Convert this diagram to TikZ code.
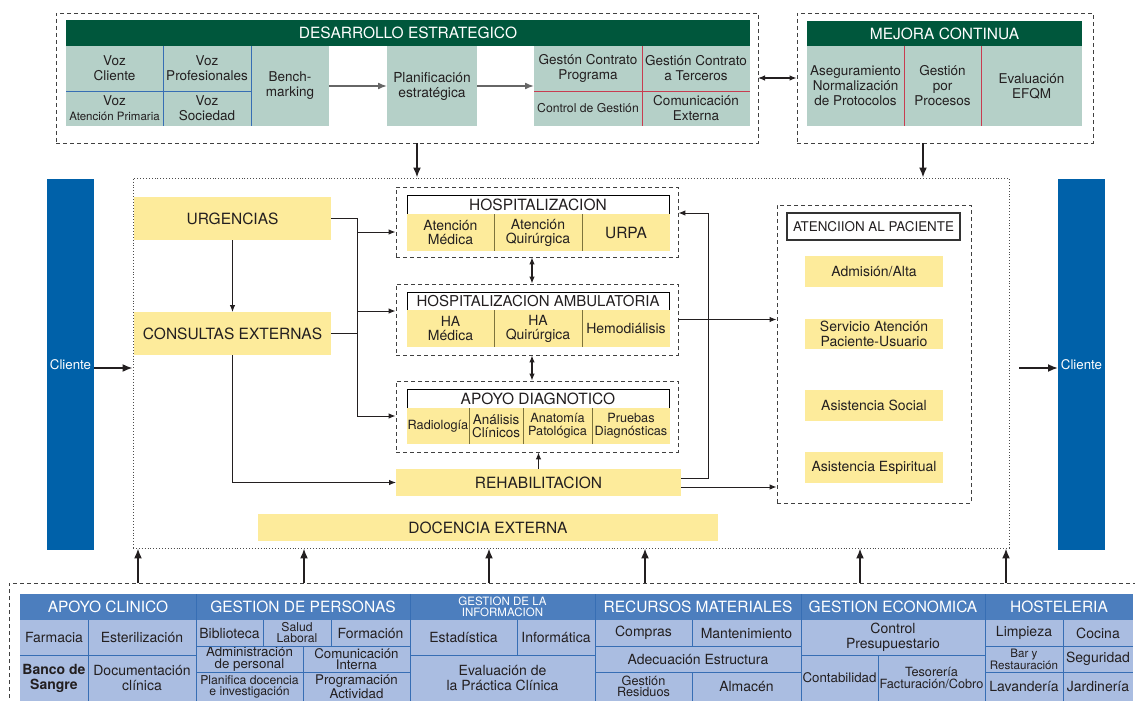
\documentclass[tikz,border=0pt]{standalone}
\usepackage{fontspec}
\setmainfont{TeX Gyre Heros}
\usetikzlibrary{arrows.meta}
\definecolor{colGreen}{RGB}{0,87,60}
\definecolor{colTeal}{RGB}{181,208,200}
\definecolor{colYel}{RGB}{253,235,155}
\definecolor{colCli}{RGB}{0,97,169}
\definecolor{colHBlue}{RGB}{76,126,190}
\definecolor{colLBlue}{RGB}{170,189,225}
\definecolor{colDiv}{RGB}{55,110,180}
\definecolor{colRed}{RGB}{200,60,80}
\definecolor{colOl}{RGB}{125,115,60}
\definecolor{colTxt}{RGB}{35,31,32}
\newcommand\fsz[2]{\fontsize{#1}{#2}\selectfont}
\newcommand\cellbox[7]{\node[#1,minimum width={(#5-#3)*1pt},minimum height={(#6-#4)*1pt}] (#2) at ({(#3+#5)/2},{(#4+#6)/2}) {#7};}
\begin{document}
\begin{tikzpicture}[x=1pt,y=-1pt,
  base/.style={inner sep=0pt,outer sep=0pt,align=center,text=colTxt},
  ghead/.style={base,fill=colGreen,text=white,font=\fsz{15.5}{17}},
  tcell/.style={base,fill=colTeal,font=\fsz{13.5}{15}},
  ybox/.style={base,fill=colYel,font=\fsz{15.5}{17}},
  ycell/.style={base,fill=colYel,font=\fsz{14}{14}},
  acell/.style={base,fill=colYel,font=\fsz{12.7}{13}},
  yitem/.style={base,fill=colYel,font=\fsz{14}{15}},
  dbox/.style={draw=black!75,dash pattern=on 4pt off 3pt,line width=0.9pt},
  mbox/.style={draw=black!70,dotted,line width=0.9pt},
  tbox/.style={base,draw=black,line width=0.8pt,fill=white,font=\fsz{15.5}{17}},
  atitle/.style={base,draw=black!80,line width=1.1pt,fill=white,font=\fsz{13.4}{15}},
  cli/.style={base,fill=colCli,text=white,font=\fsz{13.3}{15}},
  bhead/.style={base,fill=colHBlue,text=white,font=\fsz{15.5}{17}},
  bcell/.style={base,font=\fsz{14}{15}},
  bsmall/.style={base,font=\fsz{12.2}{11}},
  divb/.style={draw=colDiv,line width=0.9pt},
  divr/.style={draw=colRed,line width=0.9pt},
  divo/.style={draw=colOl,line width=0.9pt},
  ar/.style={-{Latex[length=7pt,width=5.5pt]},line width=1pt,draw=colTxt},
  dar/.style={{Latex[length=7pt,width=5.5pt]}-{Latex[length=7pt,width=5.5pt]},line width=1.1pt,draw=colTxt},
  bar/.style={-{Latex[length=10pt,width=8pt]},line width=1.8pt,draw=colTxt},
  gar/.style={-{Latex[length=9pt,width=7pt]},line width=1.6pt,draw=black!60},
  ln/.style={line width=1pt,draw=colTxt}
]
\useasboundingbox (0,0) rectangle (1135,701);
% ===== top: desarrollo estrategico
\cellbox{dbox}{desbox}{56}{13}{758}{143}{}
\cellbox{ghead}{desh}{66}{20}{750}{46}{DESARROLLO ESTRATEGICO}
\cellbox{tcell}{vc}{66}{46}{163}{91}{Voz\\Cliente}
\cellbox{tcell}{vp}{163}{46}{251}{91}{Voz\\Profesionales}
\cellbox{tcell}{va}{66}{91}{163}{126}{Voz\\{\fsz{11.5}{13}Atención Primaria}}
\cellbox{tcell}{vs}{163}{91}{251}{126}{Voz\\Sociedad}
\cellbox{tcell}{bm}{251}{46}{329}{126}{Bench-\\marking}
\draw[divb] (163,46)--(163,126) (251,46)--(251,126) (66,91)--(251,91);
\cellbox{tcell,font=\fsz{13.8}{15}}{plan}{387}{46}{477}{126}{Planificación\\estratégica}
\cellbox{base}{gc}{534}{46}{750}{126}{}
\cellbox{tcell}{g1}{534}{46}{642}{91}{Gestón Contrato\\Programa}
\cellbox{tcell}{g2}{642}{46}{750}{91}{Gestión Contrato\\a Terceros}
\cellbox{tcell,font=\fsz{12.2}{14}}{g3}{534}{91}{642}{126}{Control de Gestión}
\cellbox{tcell}{g4}{642}{91}{750}{126}{Comunicación\\Externa}
\draw[divr] (642,46)--(642,126) (534,91)--(750,91);
% ===== top: mejora continua
\cellbox{dbox}{mejbox}{797}{13}{1093}{143}{}
\cellbox{ghead}{mejh}{807}{21}{1082}{46}{MEJORA CONTINUA}
\cellbox{tcell}{m1}{807}{46}{904}{126}{Aseguramiento\\Normalización\\de Protocolos}
\cellbox{tcell}{m2}{904}{46}{981}{126}{Gestión\\por\\Procesos}
\cellbox{tcell}{m3}{981}{46}{1082}{126}{Evaluación\\EFQM}
\draw[divr] (904,46)--(904,126) (981,46)--(981,126);
% ===== main box
\cellbox{mbox}{main}{133}{178}{1009}{548}{}
\cellbox{cli}{cll}{47}{179}{94}{550}{Cliente}
\cellbox{cli}{clr}{1058}{179}{1105}{550}{Cliente}
\cellbox{ybox}{urg}{134}{197}{331}{240}{URGENCIAS}
\cellbox{ybox}{cons}{134}{312}{331}{355}{CONSULTAS EXTERNAS}
% hospitalizacion
\cellbox{dbox}{hospbox}{396}{187}{678}{257}{}
\cellbox{tbox}{hosph}{407}{195}{669}{214}{HOSPITALIZACION}
\cellbox{ycell}{h1}{407}{214}{494}{251}{Atención\\Médica}
\cellbox{ycell}{h2}{494}{214}{582}{251}{Atención\\Quirúrgica}
\cellbox{ycell,font=\fsz{15.5}{17}}{h3}{582}{214}{670}{251}{URPA}
\draw[divo] (494,214)--(494,251) (582,214)--(582,251);
% hospitalizacion ambulatoria
\cellbox{dbox}{habox}{396}{284}{678}{355}{}
\cellbox{tbox,font=\fsz{15}{17}}{hah}{407}{292}{669}{310}{HOSPITALIZACION AMBULATORIA}
\cellbox{ycell}{ha1}{407}{310}{494}{347}{HA\\Médica}
\cellbox{ycell}{ha2}{494}{310}{582}{347}{HA\\Quirúrgica}
\cellbox{ycell}{ha3}{582}{310}{670}{347}{Hemodiálisis}
\draw[divo] (494,310)--(494,347) (582,310)--(582,347);
% apoyo diagnostico
\cellbox{dbox}{apbox}{396}{381}{678}{452}{}
\cellbox{tbox}{aph}{407}{389}{669}{408}{APOYO DIAGNOTICO}
\cellbox{acell}{ap1}{407}{408}{469}{444}{Radiología}
\cellbox{acell,font=\fsz{13.5}{13}}{ap2}{469}{408}{523}{444}{Análisis\\Clínicos}
\cellbox{acell}{ap3}{523}{408}{592}{444}{Anatomía\\Patológica}
\cellbox{acell}{ap4}{592}{408}{670}{444}{Pruebas\\Diagnósticas}
\draw[divo] (469,408)--(469,444) (523,408)--(523,444) (592,408)--(592,444);
\cellbox{ybox}{rehab}{396}{469}{681}{496}{REHABILITACION}
\cellbox{ybox}{doc}{258}{514}{718}{541}{DOCENCIA EXTERNA}
% atencion al paciente
\cellbox{dbox}{atbox}{777}{205}{971}{503}{}
\cellbox{atitle}{att}{787}{213}{960}{240}{ATENCIION AL PACIENTE}
\cellbox{yitem}{at1}{805}{256}{943}{287}{Admisión/Alta}
\cellbox{yitem}{at2}{805}{319}{943}{349}{Servicio Atención\\Paciente-Usuario}
\cellbox{yitem}{at3}{805}{390}{943}{421}{Asistencia Social}
\cellbox{yitem}{at4}{805}{452}{943}{483}{Asistencia Espiritual}
% ===== bottom table
\draw[dbox] (9,712) -- (9,583) -- (1145,583);
\fill[colLBlue] (20,620) rectangle (1133,701);
\cellbox{bhead}{bh1}{20}{594}{196}{620}{APOYO CLINICO}
\cellbox{bhead}{bh2}{196}{594}{410}{620}{GESTION DE PERSONAS}
\cellbox{bhead,font=\fsz{11.5}{10.5}}{bh3}{410}{594}{595}{620}{GESTION DE LA\\INFORMACION}
\cellbox{bhead}{bh4}{595}{594}{801}{620}{RECURSOS MATERIALES}
\cellbox{bhead}{bh5}{801}{594}{985}{620}{GESTION ECONOMICA}
\cellbox{bhead}{bh6}{985}{594}{1133}{620}{HOSTELERIA}
\cellbox{bcell}{c11}{20}{620}{88}{655}{Farmacia}
\cellbox{bcell}{c12}{88}{620}{196}{655}{Esterilización}
\cellbox{bcell,font=\fsz{14}{15}\bfseries}{c13}{20}{655}{88}{701}{Banco de\\Sangre}
\cellbox{bcell}{c14}{88}{655}{196}{701}{Documentación\\clínica}
\cellbox{bcell}{c21}{196}{620}{263}{646}{Biblioteca}
\cellbox{bsmall}{c22}{263}{620}{331}{646}{Salud\\Laboral}
\cellbox{bcell}{c23}{331}{620}{410}{646}{Formación}
\cellbox{base,font=\fsz{13.3}{11.5}}{c24}{196}{646}{303}{672}{Administración\\de personal}
\cellbox{base,font=\fsz{13.3}{11.5}}{c25}{303}{646}{410}{672}{Comunicación\\Interna}
\cellbox{bsmall}{c26}{196}{672}{303}{701}{Planifica docencia\\e investigación}
\cellbox{base,font=\fsz{13.3}{11.5}}{c27}{303}{672}{410}{701}{Programación\\Actividad}
\cellbox{bcell}{c31}{410}{620}{517}{655}{Estadística}
\cellbox{bcell}{c32}{517}{620}{595}{655}{Informática}
\cellbox{bcell}{c33}{410}{655}{595}{701}{Evaluación de\\la Práctica Clínica}
\cellbox{bcell}{c41}{595}{620}{692}{646}{Compras}
\cellbox{bcell}{c42}{692}{620}{801}{646}{Mantenimiento}
\cellbox{bcell}{c43}{595}{646}{801}{672}{Adecuación Estructura}
\cellbox{base,font=\fsz{12.7}{11.5}}{c44}{595}{672}{692}{701}{Gestión\\Residuos}
\cellbox{bcell}{c45}{692}{672}{801}{701}{Almacén}
\cellbox{bcell}{c51}{801}{620}{985}{655}{Control\\Presupuestario}
\cellbox{bcell,font=\fsz{13.3}{15}}{c52}{801}{655}{878}{701}{Contabilidad}
\cellbox{base,font=\fsz{12.7}{12}}{c53}{878}{655}{985}{701}{Tesorería\\Facturación/Cobro}
\cellbox{bcell}{c61}{985}{620}{1063}{646}{Limpieza}
\cellbox{bcell}{c62}{1063}{620}{1133}{646}{Cocina}
\cellbox{base,font=\fsz{11.6}{9.5}}{c63}{985}{646}{1063}{672}{Bar y\\Restauración}
\cellbox{bcell}{c64}{1063}{646}{1133}{672}{Seguridad}
\cellbox{bcell}{c65}{985}{672}{1063}{701}{Lavandería}
\cellbox{bcell}{c66}{1063}{672}{1133}{701}{Jardinería}
\draw[divb] (196,594)--(196,701) (410,594)--(410,701) (595,594)--(595,701)
  (801,594)--(801,701) (985,594)--(985,701);
\draw[divb] (20,655)--(196,655) (88,620)--(88,701)
  (196,646)--(410,646) (196,672)--(410,672) (263,620)--(263,646) (331,620)--(331,646) (303,646)--(303,701)
  (410,655)--(595,655) (517,620)--(517,655)
  (595,646)--(801,646) (595,672)--(801,672) (692,620)--(692,646) (692,672)--(692,701)
  (801,655)--(985,655) (878,655)--(878,701)
  (985,646)--(1133,646) (985,672)--(1133,672) (1063,620)--(1063,701);
% ===== connectors
\draw[gar] (bm.east) -- (plan.west);
\draw[gar] (plan.east) -- (gc.west);
\coordinate (dm) at (758,78);
\draw[dar] (dm) -- (dm -| mejbox.west);
\coordinate (t1) at (417,143);
\draw[bar] (t1) -- (t1 |- main.north);
\coordinate (t2) at (923,143);
\draw[bar] (t2) -- (t2 |- main.north);
\coordinate (cl1) at ([yshift=-3.5pt]cll.east);
\draw[bar] (cl1) -- (cl1 -| main.west);
\coordinate (cr1) at (1019,368);
\draw[bar] (cr1) -- (cr1 -| clr.west);
\draw[ar] (urg.south) -- (cons.north);
\coordinate (j1) at (urg.east -| 357,0);
\coordinate (j2) at (357,416);
\draw[ln] (urg.east) -- (j1) -- (j2);
\draw[ln] (cons.east) -- (cons.east -| j1);
\coordinate (b1) at (357,232);
\draw[ar] (b1) -- (b1 -| hospbox.west);
\coordinate (b2) at (357,311);
\draw[ar] (b2) -- (b2 -| habox.west);
\draw[ar] (j2) -- (j2 -| apbox.west);
\coordinate (d1) at ([xshift=-5pt]hospbox.south);
\draw[dar] (d1) -- (d1 |- habox.north);
\coordinate (d2) at ([xshift=-5pt]habox.south);
\draw[dar] (d2) -- (d2 |- apbox.north);
\draw[ar] (rehab.north) -- (rehab.north |- apbox.south);
\draw[ar] (cons.south) |- (rehab.west);
\coordinate (r1) at ([yshift=4.5pt]rehab.east);
\coordinate (rr) at (708,213);
\draw[ar] (r1) -| (rr) -- (rr -| hospbox.east);
\coordinate (r2) at ([yshift=-4.5pt]rehab.east);
\draw[ar] (r2) -- (r2 -| atbox.west);
\draw[ar] (habox.east) -- (habox.east -| atbox.west);
\foreach \i/\xx in {1/138,2/304,3/489,4/645,5/860,6/1006}{
  \coordinate (ba\i) at (\xx,583);
  \draw[bar] (ba\i) -- (ba\i |- main.south);
}
\end{tikzpicture}
\end{document}
